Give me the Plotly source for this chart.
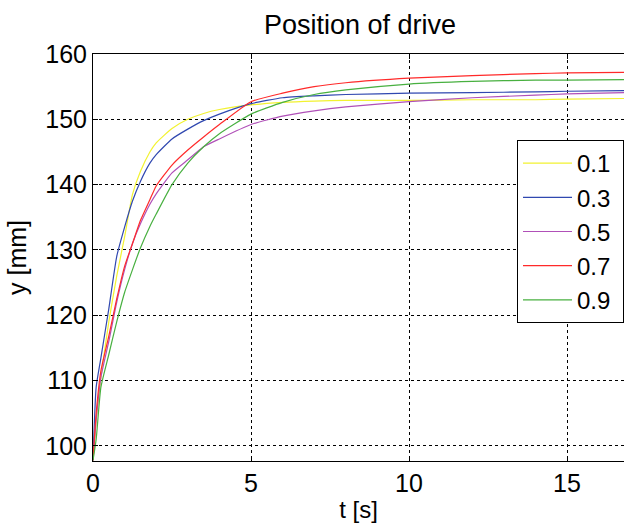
import plotly.graph_objects as go

t = [0, 0.1, 0.25, 0.5, 0.75, 1.0, 1.25, 1.5, 1.8, 2.0, 2.5, 3.0, 3.5, 4.0, 5.0, 6.0, 7.0, 8.0, 10.0, 12.0, 14.0, 15.0, 17.0]

y_01 = [97.8, 104.0, 110.5, 119.0, 126.0, 132.0, 138.5, 142.0, 145.0, 146.4, 148.6, 150.0, 150.9, 151.5, 152.2, 152.6, 152.8, 152.9, 152.9, 153.0, 153.0, 153.1, 153.2]
y_03 = [97.8, 109.0, 113.5, 121.0, 129.0, 133.5, 137.5, 140.5, 143.3, 144.6, 147.0, 148.5, 149.8, 150.8, 152.4, 153.3, 153.6, 153.8, 154.0, 154.1, 154.2, 154.3, 154.4]
y_05 = [97.8, 104.0, 110.5, 116.0, 122.0, 127.0, 131.0, 134.0, 137.0, 138.6, 141.8, 143.8, 145.8, 147.0, 149.2, 150.5, 151.3, 151.9, 152.7, 153.3, 153.7, 153.9, 154.1]
y_07 = [97.8, 105.0, 111.5, 116.8, 122.5, 127.5, 131.0, 134.5, 137.7, 139.8, 143.0, 145.3, 147.3, 149.2, 152.7, 154.0, 155.0, 155.6, 156.3, 156.7, 157.0, 157.1, 157.2]
y_09 = [97.8, 101.0, 109.0, 114.0, 119.0, 123.5, 127.0, 130.3, 133.6, 135.5, 140.0, 143.3, 145.8, 147.8, 150.8, 152.6, 153.8, 154.5, 155.4, 155.8, 156.0, 156.0, 156.1]

names = ["0.1", "0.3", "0.5", "0.7", "0.9"]
series = [y_01, y_03, y_05, y_07, y_09]
colors = ["#f2f230", "#3048b0", "#b050b8", "#ff2a2a", "#48b040"]

x_ticks = [0, 5, 10, 15]
y_ticks = [100, 110, 120, 130, 140, 150, 160]

FONT = "Liberation Sans, Arial, sans-serif"

fig = go.Figure()
for name, ys, c in zip(names, series, colors):
    # one trailing non-breaking space widens the legend box just past the window edge
    fig.add_trace(go.Scatter(x=t, y=ys, name=name + "\u00a0", mode="lines",
                             line=dict(color=c, width=1.2, shape="spline", smoothing=0.5)))

axis_font = dict(family=FONT, size=25, color="black")

W, H = 624, 525
L, R, T, B = 93, 0, 54, 64
pw = W - L - R
ph = H - T - B
px_per_s = 31.6

fig.update_layout(
    width=W, height=H,
    margin=dict(l=L, r=R, t=T, b=B, autoexpand=False),
    paper_bgcolor="white", plot_bgcolor="white",
    font=axis_font,
    title=dict(text="Position of drive", x=(360 - L) / pw, xref="paper", xanchor="center",
               y=1 - 25 / H, yref="container", yanchor="middle",
               font=dict(family=FONT, size=27, color="black")),
    legend=dict(x=(517 - L) / pw, y=(H - B - 140) / ph, xanchor="left", yanchor="top",
                bgcolor="white", bordercolor="black", borderwidth=1,
                font=dict(family=FONT, size=24, color="black"),
                itemwidth=49),
    showlegend=True,
)

fig.update_xaxes(
    range=[0, pw / px_per_s], tickvals=x_ticks, ticktext=[str(v) for v in x_ticks],
    showgrid=True, gridcolor="black", griddash="3px,3px", gridwidth=1,
    showline=True, linecolor="black", linewidth=1, mirror="ticks",
    ticks="inside", ticklen=5, tickcolor="black", zeroline=False,
    title=dict(text="t [s]", standoff=5, font=dict(family=FONT, size=24, color="black")),
    tickfont=axis_font,
)
fig.update_yaxes(
    range=[97.7, 160], tickvals=y_ticks, ticktext=[str(v) for v in y_ticks],
    showgrid=True, gridcolor="black", griddash="3px,3px", gridwidth=1,
    showline=True, linecolor="black", linewidth=1, mirror=False,
    ticks="inside", ticklen=5, tickcolor="black", zeroline=False,
    title=dict(text="y [mm]", standoff=11, font=axis_font),
    tickfont=axis_font,
)

fig.write_html(
    "out.html",
    config={"displayModeBar": False},
    post_script="document.body.style.margin='0';document.body.style.overflow='hidden';",
)
